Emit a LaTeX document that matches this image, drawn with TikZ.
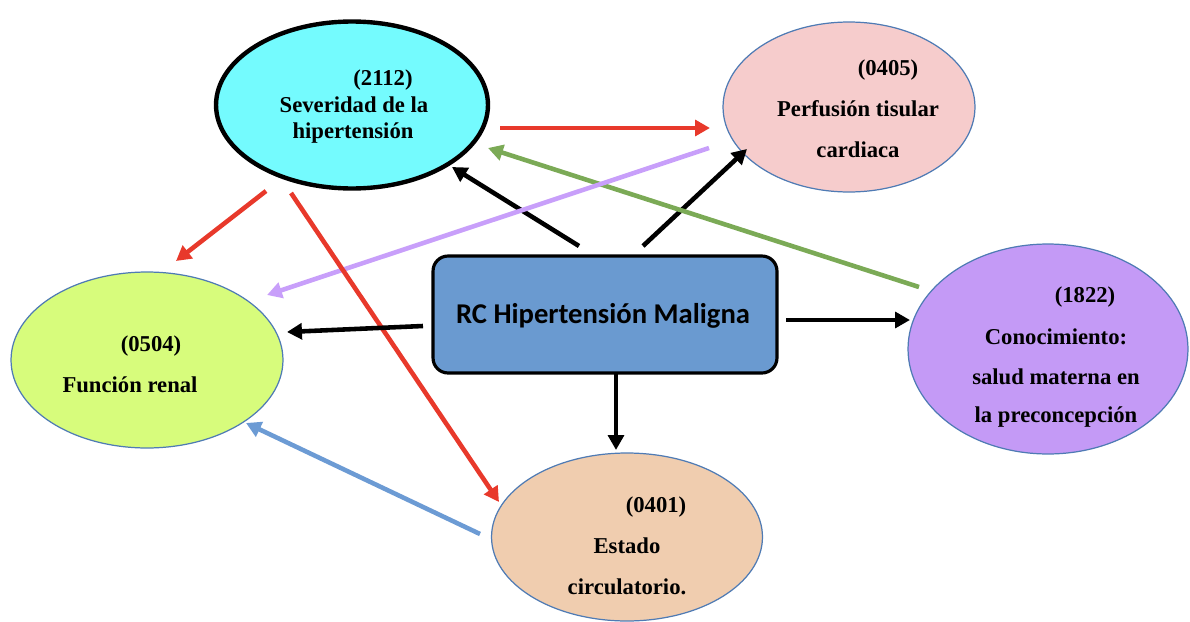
\documentclass[tikz,border=0pt]{standalone}
\usepackage{fontspec}
\setmainfont{Liberation Serif}
\newfontfamily\calib{Carlito}
\usetikzlibrary{arrows.meta,shapes.geometric}
\definecolor{cyanfill}{HTML}{74FBFE}
\definecolor{pinkfill}{HTML}{F6CCCC}
\definecolor{greenfill}{HTML}{D7FC7C}
\definecolor{purplefill}{HTML}{C49AF6}
\definecolor{peachfill}{HTML}{F0CDAF}
\definecolor{rectfill}{HTML}{6A9AD0}
\definecolor{edgeblue}{HTML}{4F7BB4}
\definecolor{arred}{HTML}{E8392B}
\definecolor{argreen}{HTML}{7BAA56}
\definecolor{arpurple}{HTML}{C89FFA}
\definecolor{arblue}{HTML}{6C9BD4}
\begin{document}
\begin{tikzpicture}[x=0.02cm,y=-0.02cm,
  oval/.style={ellipse,draw=edgeblue,line width=0.7pt,inner sep=0pt},
  lbl/.style={inner sep=0pt,font=\fontsize{12.9}{15}\selectfont\bfseries},
  conn/.style={line width=2.6pt,-{Triangle[length=8.5pt,width=9pt]}},
]
\useasboundingbox (0,0) rectangle (1190,622);
% ellipses
\node[oval,draw=black,line width=2.5pt,fill=cyanfill,minimum width=5.44cm,minimum height=3.34cm] (sev) at (352,105) {};
\node[oval,fill=pinkfill,minimum width=5.04cm,minimum height=3.4cm] (perf) at (849,107) {};
\node[oval,fill=greenfill,minimum width=5.44cm,minimum height=3.52cm] (ren) at (147,360) {};
\node[oval,fill=purplefill,minimum width=5.6cm,minimum height=4.2cm] (con) at (1048,349) {};
\node[oval,fill=peachfill,minimum width=5.42cm,minimum height=3.36cm] (est) at (627,537) {};
% central box
\node[draw=black,line width=1.8pt,fill=rectfill,rounded corners=0.3cm,minimum width=6.88cm,minimum height=2.34cm,inner sep=0pt] (rc) at (605,314.5) {};
\node[inner sep=0pt,font=\calib\fontsize{16.3}{19}\selectfont\bfseries] (rct) at (603,316) {RC Hipertensión Maligna};
% labels
\node[lbl] (sev1) at (383,80) {(2112)};
\node[lbl] (sev2) at (354,105) {Severidad de la};
\node[lbl] (sev3) at (353,133) {hipertensión};
\node[lbl] (perf1) at (888,70) {(0405)};
\node[lbl] (perf2) at (858,109) {Perfusión tisular};
\node[lbl] (perf3) at (858,150) {cardiaca};
\node[lbl] (ren1) at (151,346) {(0504)};
\node[lbl] (ren2) at (130,385) {Función renal};
\node[lbl] (con1) at (1085,297) {(1822)};
\node[lbl] (con2) at (1056,337) {Conocimiento:};
\node[lbl] (con3) at (1056,377) {salud materna en};
\node[lbl] (con4) at (1056,417) {la preconcepción};
\node[lbl] (est1) at (656,507) {(0401)};
\node[lbl] (est2) at (627,546) {Estado};
\node[lbl] (est3) at (627,587) {circulatorio.};
% connector end points
\coordinate (rcTL) at (579,246);
\coordinate (rcTR) at (643,246);
\coordinate (rcL) at (423,326);
\coordinate (rcR) at (786,320);
\coordinate (rcB) at (616,373);
\coordinate (sevE) at (500,128);
\coordinate (sevSE) at (452,167);
\coordinate (sevGr) at (488,148);
\coordinate (sevSW1) at (266,191);
\coordinate (sevSW2) at (291,193);
\coordinate (perfW) at (710,128);
\coordinate (perfPu) at (709,148);
\coordinate (perfSW) at (747,149);
\coordinate (renRd) at (176,261);
\coordinate (renPu) at (267,295);
\coordinate (renE) at (287,332);
\coordinate (renSE) at (246,423);
\coordinate (conW) at (910,320);
\coordinate (conNW) at (919,287);
\coordinate (estN) at (616,450);
\coordinate (estNW) at (499,502);
\coordinate (estW) at (480,534);
% connectors
\draw[conn,arred] (sevE) -- (perfW);
\draw[conn,black] (rcTL) -- (sevSE);
\draw[conn,black] (rcTR) -- (perfSW);
\draw[conn,argreen] (conNW) -- (sevGr);
\draw[conn,arpurple] (perfPu) -- (renPu);
\draw[conn,arred] (sevSW1) -- (renRd);
\draw[conn,arred] (sevSW2) -- (estNW);
\draw[conn,black] (rcL) -- (renE);
\draw[conn,black] (rcR) -- (conW);
\draw[conn,black] (rcB) -- (estN);
\draw[conn,arblue] (estW) -- (renSE);
\end{tikzpicture}
\end{document}
